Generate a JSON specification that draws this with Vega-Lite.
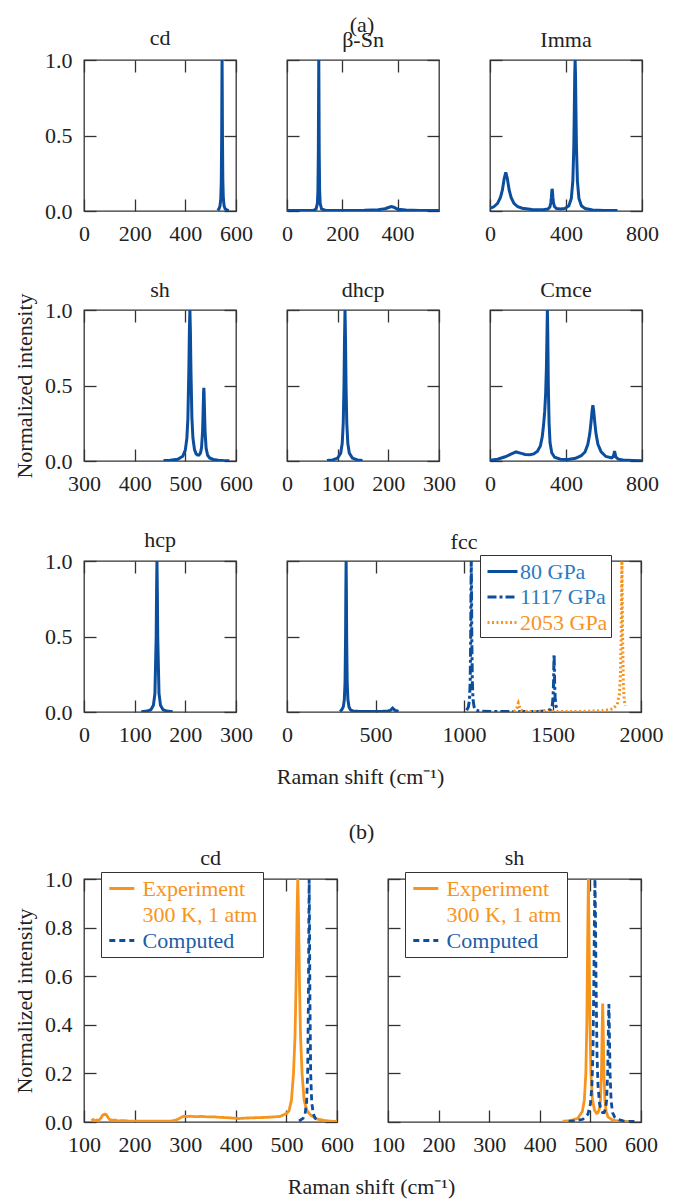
{
  "$schema": "https://vega.github.io/schema/vega-lite/v6.json",
  "padding": {"left": 12, "top": 14, "right": 5, "bottom": 5},
  "spacing": 33,
  "bounds": "full",
  "resolve": {"scale": {"color": "independent", "strokeDash": "independent"}, "legend": {"color": "independent", "strokeDash": "independent"}},
  "config": {
    "font": "Liberation Serif",
    "view": {"stroke": "#333", "strokeWidth": 1.3},
    "axis": {"domain": false, "grid": false, "tickSize": -12, "tickColor": "#333", "tickWidth": 1.3, "labelFont": "Liberation Serif", "labelFontSize": 22, "labelColor": "#222", "labelPadding": 24, "labelFlush": false, "labelOverlap": false, "titleFont": "Liberation Serif", "titleFontSize": 22, "titleFontWeight": "normal", "titleColor": "#222", "titlePadding": 8},
    "title": {"font": "Liberation Serif", "fontSize": 22, "fontWeight": "normal", "color": "#222", "baseline": "alphabetic", "offset": 7.5, "anchor": "middle", "frame": "group"},
    "legend": {"labelFont": "Liberation Serif", "labelFontSize": 22}
  },
  "datasets": {
    "cd": [{"x":528,"y":0.004},{"x":533,"y":0.015},{"x":537,"y":0.034},{"x":540,"y":0.083},{"x":542,"y":0.2},{"x":543.5,"y":0.5},{"x":544.3,"y":0.8},{"x":545,"y":1},{"x":545.7,"y":0.8},{"x":546.5,"y":0.5},{"x":548,"y":0.2},{"x":550,"y":0.083},{"x":553,"y":0.034},{"x":557,"y":0.015},{"x":565,"y":0.006},{"x":572,"y":0.003}],
    "bsn": [{"x":0,"y":0.003},{"x":60,"y":0.003},{"x":95,"y":0.004},{"x":105,"y":0.012},{"x":110,"y":0.05},{"x":112,"y":0.14},{"x":113.5,"y":0.4},{"x":114.3,"y":0.75},{"x":115,"y":1},{"x":115.7,"y":0.75},{"x":116.5,"y":0.4},{"x":118,"y":0.14},{"x":120,"y":0.05},{"x":125,"y":0.014},{"x":140,"y":0.004},{"x":200,"y":0.004},{"x":280,"y":0.005},{"x":330,"y":0.009},{"x":355,"y":0.015},{"x":370,"y":0.025},{"x":378,"y":0.03},{"x":386,"y":0.025},{"x":400,"y":0.012},{"x":430,"y":0.006},{"x":480,"y":0.004},{"x":550,"y":0.003}],
    "imma": [{"x":0,"y":0.018},{"x":20,"y":0.028},{"x":40,"y":0.05},{"x":55,"y":0.09},{"x":65,"y":0.138},{"x":75,"y":0.216},{"x":83,"y":0.255},{"x":91,"y":0.216},{"x":101,"y":0.138},{"x":111,"y":0.09},{"x":126,"y":0.05},{"x":146,"y":0.028},{"x":170,"y":0.018},{"x":220,"y":0.01},{"x":280,"y":0.009},{"x":305,"y":0.013},{"x":315,"y":0.027},{"x":320,"y":0.053},{"x":323,"y":0.09},{"x":325,"y":0.125},{"x":327,"y":0.147},{"x":329,"y":0.127},{"x":331,"y":0.09},{"x":334,"y":0.055},{"x":339,"y":0.03},{"x":350,"y":0.016},{"x":370,"y":0.013},{"x":395,"y":0.017},{"x":415,"y":0.035},{"x":428,"y":0.083},{"x":436,"y":0.2},{"x":441,"y":0.42},{"x":444,"y":0.69},{"x":446,"y":0.9},{"x":448,"y":1},{"x":450,"y":0.9},{"x":452,"y":0.69},{"x":455,"y":0.42},{"x":460,"y":0.2},{"x":468,"y":0.083},{"x":481,"y":0.035},{"x":501,"y":0.016},{"x":540,"y":0.007},{"x":600,"y":0.004},{"x":671,"y":0.003}],
    "sh": [{"x":457,"y":0.003},{"x":470,"y":0.005},{"x":485,"y":0.011},{"x":495,"y":0.032},{"x":500,"y":0.073},{"x":503,"y":0.15},{"x":505,"y":0.28},{"x":507,"y":0.61},{"x":508,"y":0.86},{"x":509,"y":1},{"x":510,"y":0.86},{"x":511,"y":0.61},{"x":513,"y":0.283},{"x":515,"y":0.152},{"x":518,"y":0.077},{"x":521,"y":0.049},{"x":524,"y":0.039},{"x":527,"y":0.039},{"x":530,"y":0.054},{"x":532,"y":0.089},{"x":534,"y":0.193},{"x":535,"y":0.31},{"x":536,"y":0.451},{"x":536.5,"y":0.485},{"x":537,"y":0.451},{"x":538,"y":0.309},{"x":539,"y":0.191},{"x":541,"y":0.085},{"x":544,"y":0.038},{"x":548,"y":0.02},{"x":555,"y":0.01},{"x":565,"y":0.0043},{"x":578,"y":0.0024},{"x":587,"y":0.002}],
    "dhcp": [{"x":79,"y":0.003},{"x":90,"y":0.007},{"x":100,"y":0.019},{"x":106,"y":0.052},{"x":109,"y":0.117},{"x":111,"y":0.25},{"x":112.5,"y":0.5},{"x":113.5,"y":0.8},{"x":114.5,"y":1},{"x":115.5,"y":0.8},{"x":116.5,"y":0.5},{"x":118,"y":0.25},{"x":120,"y":0.117},{"x":123,"y":0.052},{"x":129,"y":0.019},{"x":139,"y":0.007},{"x":149,"y":0.003}],
    "cmce": [{"x":0,"y":0.005},{"x":40,"y":0.012},{"x":80,"y":0.028},{"x":110,"y":0.045},{"x":137,"y":0.06},{"x":160,"y":0.052},{"x":185,"y":0.043},{"x":210,"y":0.042},{"x":230,"y":0.047},{"x":250,"y":0.065},{"x":265,"y":0.1},{"x":275,"y":0.16},{"x":282,"y":0.24},{"x":288,"y":0.33},{"x":293,"y":0.45},{"x":297,"y":0.62},{"x":300,"y":0.85},{"x":302,"y":1},{"x":304,"y":0.85},{"x":307,"y":0.5},{"x":311,"y":0.25},{"x":316,"y":0.12},{"x":325,"y":0.055},{"x":340,"y":0.025},{"x":370,"y":0.012},{"x":410,"y":0.01},{"x":450,"y":0.018},{"x":480,"y":0.035},{"x":500,"y":0.06},{"x":515,"y":0.11},{"x":525,"y":0.18},{"x":532,"y":0.26},{"x":537,"y":0.33},{"x":541.5,"y":0.37},{"x":546,"y":0.33},{"x":551,"y":0.26},{"x":558,"y":0.18},{"x":568,"y":0.11},{"x":585,"y":0.06},{"x":610,"y":0.03},{"x":640,"y":0.02},{"x":648,"y":0.028},{"x":652,"y":0.045},{"x":655.6,"y":0.065},{"x":659,"y":0.045},{"x":663,"y":0.025},{"x":675,"y":0.012},{"x":700,"y":0.007},{"x":750,"y":0.004},{"x":800,"y":0.002}],
    "hcp": [{"x":113,"y":0.002},{"x":125,"y":0.006},{"x":132,"y":0.015},{"x":137,"y":0.044},{"x":140,"y":0.123},{"x":142.5,"y":0.5},{"x":143.25,"y":0.8},{"x":144,"y":1},{"x":144.75,"y":0.8},{"x":145.5,"y":0.5},{"x":148,"y":0.123},{"x":151,"y":0.044},{"x":156,"y":0.015},{"x":163,"y":0.006},{"x":175,"y":0.002}],
    "fcc": [
      {"s":"80 GPa","x":300,"y":0.003},{"s":"80 GPa","x":309,"y":0.014},{"s":"80 GPa","x":318,"y":0.034},{"s":"80 GPa","x":324,"y":0.083},{"s":"80 GPa","x":328,"y":0.2},{"s":"80 GPa","x":331,"y":0.5},{"s":"80 GPa","x":332.5,"y":0.8},{"s":"80 GPa","x":334,"y":1},{"s":"80 GPa","x":335.5,"y":0.8},{"s":"80 GPa","x":337,"y":0.5},{"s":"80 GPa","x":340,"y":0.2},{"s":"80 GPa","x":344,"y":0.083},{"s":"80 GPa","x":350,"y":0.034},{"s":"80 GPa","x":359,"y":0.014},{"s":"80 GPa","x":374,"y":0.006},{"s":"80 GPa","x":420,"y":0.003},{"s":"80 GPa","x":520,"y":0.003},{"s":"80 GPa","x":570,"y":0.006},{"s":"80 GPa","x":585,"y":0.012},{"s":"80 GPa","x":592,"y":0.02},{"s":"80 GPa","x":597,"y":0.026},{"s":"80 GPa","x":602,"y":0.02},{"s":"80 GPa","x":609,"y":0.012},{"s":"80 GPa","x":630,"y":0.004},
      {"s":"1117 GPa","x":1015,"y":0.012},{"s":"1117 GPa","x":1025,"y":0.034},{"s":"1117 GPa","x":1031,"y":0.083},{"s":"1117 GPa","x":1035,"y":0.2},{"s":"1117 GPa","x":1038,"y":0.5},{"s":"1117 GPa","x":1039.5,"y":0.8},{"s":"1117 GPa","x":1041,"y":1},{"s":"1117 GPa","x":1042.5,"y":0.8},{"s":"1117 GPa","x":1044,"y":0.5},{"s":"1117 GPa","x":1047,"y":0.2},{"s":"1117 GPa","x":1051,"y":0.083},{"s":"1117 GPa","x":1057,"y":0.034},{"s":"1117 GPa","x":1066,"y":0.014},{"s":"1117 GPa","x":1085,"y":0.005},{"s":"1117 GPa","x":1150,"y":0.003},{"s":"1117 GPa","x":1300,"y":0.003},{"s":"1117 GPa","x":1420,"y":0.004},{"s":"1117 GPa","x":1470,"y":0.008},{"s":"1117 GPa","x":1490,"y":0.018},{"s":"1117 GPa","x":1499,"y":0.044},{"s":"1117 GPa","x":1503,"y":0.095},{"s":"1117 GPa","x":1506,"y":0.19},{"s":"1117 GPa","x":1507.5,"y":0.3},{"s":"1117 GPa","x":1509,"y":0.38},{"s":"1117 GPa","x":1510.5,"y":0.3},{"s":"1117 GPa","x":1512,"y":0.19},{"s":"1117 GPa","x":1515,"y":0.095},{"s":"1117 GPa","x":1519,"y":0.044},{"s":"1117 GPa","x":1525,"y":0.02},
      {"s":"2053 GPa","x":1280,"y":0.003},{"s":"2053 GPa","x":1293,"y":0.012},{"s":"2053 GPa","x":1300,"y":0.03},{"s":"2053 GPa","x":1304,"y":0.05},{"s":"2053 GPa","x":1307,"y":0.06},{"s":"2053 GPa","x":1310,"y":0.05},{"s":"2053 GPa","x":1314,"y":0.03},{"s":"2053 GPa","x":1321,"y":0.012},{"s":"2053 GPa","x":1340,"y":0.004},{"s":"2053 GPa","x":1450,"y":0.003},{"s":"2053 GPa","x":1650,"y":0.004},{"s":"2053 GPa","x":1780,"y":0.008},{"s":"2053 GPa","x":1840,"y":0.02},{"s":"2053 GPa","x":1866,"y":0.05},{"s":"2053 GPa","x":1878,"y":0.12},{"s":"2053 GPa","x":1884,"y":0.25},{"s":"2053 GPa","x":1888,"y":0.5},{"s":"2053 GPa","x":1890,"y":0.75},{"s":"2053 GPa","x":1892,"y":1},{"s":"2053 GPa","x":1894,"y":0.75},{"s":"2053 GPa","x":1896,"y":0.5},{"s":"2053 GPa","x":1900,"y":0.2},{"s":"2053 GPa","x":1905,"y":0.08},{"s":"2053 GPa","x":1911,"y":0.04}
    ],
    "bcd": [
      {"s":"Experiment","x":115,"y":0.005},{"s":"Experiment","x":118,"y":0.01},{"s":"Experiment","x":121,"y":0.004},{"s":"Experiment","x":125,"y":0.008},{"s":"Experiment","x":129,"y":0.006},{"s":"Experiment","x":133,"y":0.015},{"s":"Experiment","x":137,"y":0.028},{"s":"Experiment","x":141,"y":0.032},{"s":"Experiment","x":144,"y":0.03},{"s":"Experiment","x":147,"y":0.02},{"s":"Experiment","x":151,"y":0.01},{"s":"Experiment","x":156,"y":0.007},{"s":"Experiment","x":162,"y":0.008},{"s":"Experiment","x":168,"y":0.004},{"s":"Experiment","x":175,"y":0.006},{"s":"Experiment","x":183,"y":0.005},{"s":"Experiment","x":190,"y":0.003},{"s":"Experiment","x":200,"y":0.004},{"s":"Experiment","x":215,"y":0.003},{"s":"Experiment","x":230,"y":0.004},{"s":"Experiment","x":245,"y":0.003},{"s":"Experiment","x":260,"y":0.003},{"s":"Experiment","x":272,"y":0.004},{"s":"Experiment","x":282,"y":0.008},{"s":"Experiment","x":288,"y":0.014},{"s":"Experiment","x":293,"y":0.02},{"s":"Experiment","x":298,"y":0.024},{"s":"Experiment","x":303,"y":0.022},{"s":"Experiment","x":310,"y":0.024},{"s":"Experiment","x":320,"y":0.022},{"s":"Experiment","x":332,"y":0.023},{"s":"Experiment","x":345,"y":0.021},{"s":"Experiment","x":358,"y":0.021},{"s":"Experiment","x":370,"y":0.019},{"s":"Experiment","x":382,"y":0.018},{"s":"Experiment","x":395,"y":0.016},{"s":"Experiment","x":405,"y":0.014},{"s":"Experiment","x":418,"y":0.016},{"s":"Experiment","x":430,"y":0.017},{"s":"Experiment","x":445,"y":0.018},{"s":"Experiment","x":460,"y":0.019},{"s":"Experiment","x":475,"y":0.021},{"s":"Experiment","x":488,"y":0.023},{"s":"Experiment","x":500,"y":0.035},{"s":"Experiment","x":505,"y":0.045},{"s":"Experiment","x":510,"y":0.09},{"s":"Experiment","x":514,"y":0.2},{"s":"Experiment","x":517,"y":0.35},{"s":"Experiment","x":519,"y":0.55},{"s":"Experiment","x":521,"y":0.85},{"s":"Experiment","x":522.5,"y":1},{"s":"Experiment","x":524,"y":0.85},{"s":"Experiment","x":526,"y":0.55},{"s":"Experiment","x":528,"y":0.35},{"s":"Experiment","x":531,"y":0.2},{"s":"Experiment","x":535,"y":0.09},{"s":"Experiment","x":540,"y":0.05},{"s":"Experiment","x":545,"y":0.035},{"s":"Experiment","x":550,"y":0.025},{"s":"Experiment","x":560,"y":0.013},{"s":"Experiment","x":575,"y":0.006},{"s":"Experiment","x":590,"y":0.003},{"s":"Experiment","x":600,"y":0.002},
      {"s":"Computed","x":525,"y":0.004},{"s":"Computed","x":533,"y":0.015},{"s":"Computed","x":537,"y":0.034},{"s":"Computed","x":540,"y":0.083},{"s":"Computed","x":542,"y":0.2},{"s":"Computed","x":543.5,"y":0.5},{"s":"Computed","x":544.3,"y":0.8},{"s":"Computed","x":545,"y":1},{"s":"Computed","x":545.7,"y":0.8},{"s":"Computed","x":546.5,"y":0.5},{"s":"Computed","x":548,"y":0.2},{"s":"Computed","x":550,"y":0.083},{"s":"Computed","x":553,"y":0.034},{"s":"Computed","x":557,"y":0.015},{"s":"Computed","x":562,"y":0.007}
    ],
    "bsh": [
      {"s":"Experiment","x":445,"y":0.003},{"s":"Experiment","x":460,"y":0.005},{"s":"Experiment","x":475,"y":0.015},{"s":"Experiment","x":484,"y":0.043},{"s":"Experiment","x":488,"y":0.09},{"s":"Experiment","x":491,"y":0.2},{"s":"Experiment","x":493,"y":0.41},{"s":"Experiment","x":494.5,"y":0.735},{"s":"Experiment","x":496,"y":1},{"s":"Experiment","x":497.5,"y":0.735},{"s":"Experiment","x":499,"y":0.41},{"s":"Experiment","x":501,"y":0.203},{"s":"Experiment","x":504,"y":0.094},{"s":"Experiment","x":508,"y":0.049},{"s":"Experiment","x":512,"y":0.036},{"s":"Experiment","x":515,"y":0.038},{"s":"Experiment","x":518,"y":0.056},{"s":"Experiment","x":520,"y":0.095},{"s":"Experiment","x":522,"y":0.212},{"s":"Experiment","x":523.3,"y":0.385},{"s":"Experiment","x":524.3,"y":0.488},{"s":"Experiment","x":525.3,"y":0.384},{"s":"Experiment","x":526.6,"y":0.21},{"s":"Experiment","x":528.6,"y":0.091},{"s":"Experiment","x":531,"y":0.044},{"s":"Experiment","x":535,"y":0.02},{"s":"Experiment","x":545,"y":0.007},{"s":"Experiment","x":560,"y":0.003},{"s":"Experiment","x":577,"y":0.0016},
      {"s":"Computed","x":457,"y":0.003},{"s":"Computed","x":470,"y":0.005},{"s":"Computed","x":485,"y":0.011},{"s":"Computed","x":495,"y":0.032},{"s":"Computed","x":500,"y":0.073},{"s":"Computed","x":503,"y":0.15},{"s":"Computed","x":505,"y":0.28},{"s":"Computed","x":507,"y":0.61},{"s":"Computed","x":508,"y":0.86},{"s":"Computed","x":509,"y":1},{"s":"Computed","x":510,"y":0.86},{"s":"Computed","x":511,"y":0.61},{"s":"Computed","x":513,"y":0.283},{"s":"Computed","x":515,"y":0.152},{"s":"Computed","x":518,"y":0.077},{"s":"Computed","x":521,"y":0.049},{"s":"Computed","x":524,"y":0.039},{"s":"Computed","x":527,"y":0.039},{"s":"Computed","x":530,"y":0.054},{"s":"Computed","x":532,"y":0.089},{"s":"Computed","x":534,"y":0.193},{"s":"Computed","x":535,"y":0.31},{"s":"Computed","x":536,"y":0.451},{"s":"Computed","x":536.5,"y":0.485},{"s":"Computed","x":537,"y":0.451},{"s":"Computed","x":538,"y":0.309},{"s":"Computed","x":539,"y":0.191},{"s":"Computed","x":541,"y":0.085},{"s":"Computed","x":544,"y":0.038},{"s":"Computed","x":548,"y":0.02},{"s":"Computed","x":555,"y":0.01},{"s":"Computed","x":565,"y":0.0043},{"s":"Computed","x":578,"y":0.0024},{"s":"Computed","x":587,"y":0.002}
    ]
  },
  "vconcat": [
    {
      "bounds": "flush", "spacing": 51,
      "title": {"text": "(a)", "frame": "bounds", "anchor": "middle", "offset": -11.3, "dx": 26},
      "hconcat": [
        {"width": 152, "height": 151, "title": {"text": "cd", "offset": -0.5}, "data": {"name": "cd"},
         "layer": [
          {"mark": {"type": "line", "color": "#0c4e9e", "strokeWidth": 3, "clip": true},
           "encoding": {
            "x": {"field": "x", "type": "quantitative", "scale": {"domain": [0, 600], "nice": false, "zero": false}, "axis": {"orient": "bottom", "values": [0, 200, 400, 600], "format": "d", "title": null}},
            "y": {"field": "y", "type": "quantitative", "scale": {"domain": [0, 1], "nice": false}, "axis": {"orient": "left", "values": [0, 0.5, 1], "format": ".1f", "title": "N", "titleOpacity": 0}}}},
          {"mark": {"type": "line", "strokeOpacity": 0, "strokeWidth": 0, "clip": true},
           "encoding": {
            "x": {"field": "x", "type": "quantitative", "axis": {"orient": "top", "values": [0, 200, 400, 600], "labels": false, "title": null}},
            "y": {"field": "y", "type": "quantitative", "axis": {"orient": "right", "values": [0, 0.5, 1], "labels": false, "title": null}}}}
         ]},
        {"width": 152, "height": 151, "title": "β-Sn", "data": {"name": "bsn"},
         "layer": [
          {"mark": {"type": "line", "color": "#0c4e9e", "strokeWidth": 3, "clip": true},
           "encoding": {
            "x": {"field": "x", "type": "quantitative", "scale": {"domain": [0, 550], "nice": false, "zero": false}, "axis": {"orient": "bottom", "values": [0, 200, 400], "format": "d", "title": null}},
            "y": {"field": "y", "type": "quantitative", "scale": {"domain": [0, 1], "nice": false}, "axis": {"orient": "left", "values": [0, 0.5, 1], "labels": false, "title": null}}}},
          {"mark": {"type": "line", "strokeOpacity": 0, "strokeWidth": 0, "clip": true},
           "encoding": {
            "x": {"field": "x", "type": "quantitative", "axis": {"orient": "top", "values": [0, 200, 400], "labels": false, "title": null}},
            "y": {"field": "y", "type": "quantitative", "axis": {"orient": "right", "values": [0, 0.5, 1], "labels": false, "title": null}}}}
         ]},
        {"width": 152, "height": 151, "title": "Imma", "data": {"name": "imma"},
         "layer": [
          {"mark": {"type": "line", "color": "#0c4e9e", "strokeWidth": 3, "clip": true},
           "encoding": {
            "x": {"field": "x", "type": "quantitative", "scale": {"domain": [0, 800], "nice": false, "zero": false}, "axis": {"orient": "bottom", "values": [0, 400, 800], "format": "d", "title": null}},
            "y": {"field": "y", "type": "quantitative", "scale": {"domain": [0, 1], "nice": false}, "axis": {"orient": "left", "values": [0, 0.5, 1], "labels": false, "title": null}}}},
          {"mark": {"type": "line", "strokeOpacity": 0, "strokeWidth": 0, "clip": true},
           "encoding": {
            "x": {"field": "x", "type": "quantitative", "axis": {"orient": "top", "values": [0, 400, 800], "labels": false, "title": null}},
            "y": {"field": "y", "type": "quantitative", "axis": {"orient": "right", "values": [0, 0.5, 1], "labels": false, "title": null}}}}
         ]}
      ]
    },
    {
      "bounds": "flush", "spacing": 51,
      "hconcat": [
        {"width": 152, "height": 151, "title": {"text": "sh", "offset": -9.5}, "data": {"name": "sh"},
         "layer": [
          {"mark": {"type": "line", "color": "#0c4e9e", "strokeWidth": 3, "clip": true},
           "encoding": {
            "x": {"field": "x", "type": "quantitative", "scale": {"domain": [300, 600], "nice": false, "zero": false}, "axis": {"orient": "bottom", "values": [300, 400, 500, 600], "format": "d", "title": null}},
            "y": {"field": "y", "type": "quantitative", "scale": {"domain": [0, 1], "nice": false}, "axis": {"orient": "left", "values": [0, 0.5, 1], "format": ".1f", "title": "Normalized intensity"}}}},
          {"mark": {"type": "line", "strokeOpacity": 0, "strokeWidth": 0, "clip": true},
           "encoding": {
            "x": {"field": "x", "type": "quantitative", "axis": {"orient": "top", "values": [300, 400, 500, 600], "labels": false, "title": null}},
            "y": {"field": "y", "type": "quantitative", "axis": {"orient": "right", "values": [0, 0.5, 1], "labels": false, "title": null}}}}
         ]},
        {"width": 152, "height": 151, "title": "dhcp", "data": {"name": "dhcp"},
         "layer": [
          {"mark": {"type": "line", "color": "#0c4e9e", "strokeWidth": 3, "clip": true},
           "encoding": {
            "x": {"field": "x", "type": "quantitative", "scale": {"domain": [0, 300], "nice": false, "zero": false}, "axis": {"orient": "bottom", "values": [0, 100, 200, 300], "format": "d", "title": null}},
            "y": {"field": "y", "type": "quantitative", "scale": {"domain": [0, 1], "nice": false}, "axis": {"orient": "left", "values": [0, 0.5, 1], "labels": false, "title": null}}}},
          {"mark": {"type": "line", "strokeOpacity": 0, "strokeWidth": 0, "clip": true},
           "encoding": {
            "x": {"field": "x", "type": "quantitative", "axis": {"orient": "top", "values": [0, 100, 200, 300], "labels": false, "title": null}},
            "y": {"field": "y", "type": "quantitative", "axis": {"orient": "right", "values": [0, 0.5, 1], "labels": false, "title": null}}}}
         ]},
        {"width": 152, "height": 151, "title": "Cmce", "data": {"name": "cmce"},
         "layer": [
          {"mark": {"type": "line", "color": "#0c4e9e", "strokeWidth": 3, "clip": true},
           "encoding": {
            "x": {"field": "x", "type": "quantitative", "scale": {"domain": [0, 800], "nice": false, "zero": false}, "axis": {"orient": "bottom", "values": [0, 400, 800], "format": "d", "title": null}},
            "y": {"field": "y", "type": "quantitative", "scale": {"domain": [0, 1], "nice": false}, "axis": {"orient": "left", "values": [0, 0.5, 1], "labels": false, "title": null}}}},
          {"mark": {"type": "line", "strokeOpacity": 0, "strokeWidth": 0, "clip": true},
           "encoding": {
            "x": {"field": "x", "type": "quantitative", "axis": {"orient": "top", "values": [0, 400, 800], "labels": false, "title": null}},
            "y": {"field": "y", "type": "quantitative", "axis": {"orient": "right", "values": [0, 0.5, 1], "labels": false, "title": null}}}}
         ]}
      ]
    },
    {
      "bounds": "flush", "spacing": 51,
      "resolve": {"scale": {"color": "independent", "strokeDash": "independent"}, "legend": {"color": "independent", "strokeDash": "independent"}},
      "hconcat": [
        {"width": 152, "height": 151, "title": {"text": "hcp", "offset": -2}, "data": {"name": "hcp"},
         "layer": [
          {"mark": {"type": "line", "color": "#0c4e9e", "strokeWidth": 3, "clip": true},
           "encoding": {
            "x": {"field": "x", "type": "quantitative", "scale": {"domain": [0, 300], "nice": false, "zero": false}, "axis": {"orient": "bottom", "values": [0, 100, 200, 300], "format": "d", "title": "Raman shift (cm⁻¹)", "titleX": 276, "titleY": 71, "titleBaseline": "alphabetic", "titleAlign": "center"}},
            "y": {"field": "y", "type": "quantitative", "scale": {"domain": [0, 1], "nice": false}, "axis": {"orient": "left", "values": [0, 0.5, 1], "format": ".1f", "title": "N", "titleOpacity": 0}}}},
          {"mark": {"type": "line", "strokeOpacity": 0, "strokeWidth": 0, "clip": true},
           "encoding": {
            "x": {"field": "x", "type": "quantitative", "axis": {"orient": "top", "values": [0, 100, 200, 300], "labels": false, "title": null}},
            "y": {"field": "y", "type": "quantitative", "axis": {"orient": "right", "values": [0, 0.5, 1], "labels": false, "title": null}}}}
         ]},
        {"width": 354, "height": 151, "title": {"text": "fcc", "offset": 1}, "data": {"name": "fcc"},
         "layer": [
          {"mark": {"type": "line", "strokeWidth": 3, "clip": true},
           "encoding": {
            "x": {"field": "x", "type": "quantitative", "scale": {"domain": [0, 2000], "nice": false, "zero": false}, "axis": {"orient": "bottom", "values": [0, 500, 1000, 1500, 2000], "format": "d", "title": null}},
            "y": {"field": "y", "type": "quantitative", "scale": {"domain": [0, 1], "nice": false}, "axis": {"orient": "left", "values": [0, 0.5, 1], "labels": false, "title": null}},
            "color": {"field": "s", "type": "nominal", "scale": {"domain": ["80 GPa", "1117 GPa", "2053 GPa"], "range": ["#0c4e9e", "#0c4e9e", "#f7941d"]},
              "legend": {"title": null, "orient": "none", "legendX": 193, "legendY": -6, "symbolType": "M-0.75,0H1.75", "symbolSize": 576, "symbolStrokeWidth": 3, "labelOffset": 10, "labelColor": {"expr": "datum.value === '2053 GPa' ? '#f7941d' : '#2a7cc0'"}, "strokeColor": "#333", "fillColor": "white", "padding": 3, "rowPadding": 0.5, "labelLimit": 300}},
            "strokeDash": {"field": "s", "type": "nominal", "scale": {"domain": ["80 GPa", "1117 GPa", "2053 GPa"], "range": [[1, 0], [9, 3, 3, 3], [2, 2.5]]},
              "legend": {"title": null, "orient": "none", "legendX": 193, "legendY": -6, "symbolType": "M-0.75,0H1.75", "symbolSize": 576, "symbolStrokeWidth": 3, "labelOffset": 10, "labelColor": {"expr": "datum.value === '2053 GPa' ? '#f7941d' : '#2a7cc0'"}, "strokeColor": "#333", "fillColor": "white", "padding": 3, "rowPadding": 0.5, "labelLimit": 300}}}},
          {"mark": {"type": "line", "strokeOpacity": 0, "strokeWidth": 0, "clip": true},
           "encoding": {
            "x": {"field": "x", "type": "quantitative", "axis": {"orient": "top", "values": [0, 500, 1000, 1500, 2000], "labels": false, "title": null}},
            "y": {"field": "y", "type": "quantitative", "axis": {"orient": "right", "values": [0, 0.5, 1], "labels": false, "title": null}}}}
         ]}
      ]
    },
    {
      "bounds": "flush", "spacing": 51,
      "resolve": {"scale": {"color": "independent", "strokeDash": "independent"}, "legend": {"color": "independent", "strokeDash": "independent"}},
      "title": {"text": "(b)", "frame": "bounds", "anchor": "middle", "offset": 1.5, "dx": 26},
      "hconcat": [
        {"width": 253, "height": 243, "title": {"text": "cd", "offset": -1.5}, "data": {"name": "bcd"},
         "layer": [
          {"mark": {"type": "line", "strokeWidth": 2.8, "clip": true},
           "encoding": {
            "x": {"field": "x", "type": "quantitative", "scale": {"domain": [100, 600], "nice": false, "zero": false}, "axis": {"orient": "bottom", "values": [100, 200, 300, 400, 500, 600], "format": "d", "title": "Raman shift (cm⁻¹)", "titleX": 287, "titleY": 71, "titleBaseline": "alphabetic", "titleAlign": "center"}},
            "y": {"field": "y", "type": "quantitative", "scale": {"domain": [0, 1], "nice": false}, "axis": {"orient": "left", "values": [0, 0.2, 0.4, 0.6, 0.8, 1], "format": ".1f", "title": "Normalized intensity"}},
            "color": {"field": "s", "type": "nominal", "scale": {"domain": ["Experiment", "300 K, 1 atm", "Computed"], "range": ["#f7941d", "transparent", "#0c4e9e"]},
              "legend": {"title": null, "orient": "none", "legendX": 17, "legendY": -7, "symbolType": "M-0.82,0H1.68", "symbolSize": 400, "symbolStrokeWidth": 3, "labelOffset": 13.6, "labelColor": {"expr": "datum.value === 'Computed' ? '#1d5ea8' : '#f7941d'"}, "strokeColor": "#333", "fillColor": "white", "padding": 5, "rowPadding": 3, "labelLimit": 300}},
            "strokeDash": {"field": "s", "type": "nominal", "scale": {"domain": ["Experiment", "300 K, 1 atm", "Computed"], "range": [[1, 0], [1, 0], [6, 4]]},
              "legend": {"title": null, "orient": "none", "legendX": 17, "legendY": -7, "symbolType": "M-0.82,0H1.68", "symbolSize": 400, "symbolStrokeWidth": 3, "labelOffset": 13.6, "labelColor": {"expr": "datum.value === 'Computed' ? '#1d5ea8' : '#f7941d'"}, "strokeColor": "#333", "fillColor": "white", "padding": 5, "rowPadding": 3, "labelLimit": 300}}}},
          {"mark": {"type": "line", "strokeOpacity": 0, "strokeWidth": 0, "clip": true},
           "encoding": {
            "x": {"field": "x", "type": "quantitative", "axis": {"orient": "top", "values": [100, 200, 300, 400, 500, 600], "labels": false, "title": null}},
            "y": {"field": "y", "type": "quantitative", "axis": {"orient": "right", "values": [0, 0.2, 0.4, 0.6, 0.8, 1], "labels": false, "title": null}}}}
         ]},
        {"width": 253, "height": 243, "title": {"text": "sh", "offset": 1.5}, "data": {"name": "bsh"},
         "layer": [
          {"mark": {"type": "line", "strokeWidth": 2.8, "clip": true},
           "encoding": {
            "x": {"field": "x", "type": "quantitative", "scale": {"domain": [100, 600], "nice": false, "zero": false}, "axis": {"orient": "bottom", "values": [100, 200, 300, 400, 500, 600], "format": "d", "title": null}},
            "y": {"field": "y", "type": "quantitative", "scale": {"domain": [0, 1], "nice": false}, "axis": {"orient": "left", "values": [0, 0.2, 0.4, 0.6, 0.8, 1], "labels": false, "title": null}},
            "color": {"field": "s", "type": "nominal", "scale": {"domain": ["Experiment", "300 K, 1 atm", "Computed"], "range": ["#f7941d", "transparent", "#0c4e9e"]},
              "legend": {"title": null, "orient": "none", "legendX": 17, "legendY": -7, "symbolType": "M-0.82,0H1.68", "symbolSize": 400, "symbolStrokeWidth": 3, "labelOffset": 13.6, "labelColor": {"expr": "datum.value === 'Computed' ? '#1d5ea8' : '#f7941d'"}, "strokeColor": "#333", "fillColor": "white", "padding": 5, "rowPadding": 3, "labelLimit": 300}},
            "strokeDash": {"field": "s", "type": "nominal", "scale": {"domain": ["Experiment", "300 K, 1 atm", "Computed"], "range": [[1, 0], [1, 0], [6, 4]]},
              "legend": {"title": null, "orient": "none", "legendX": 17, "legendY": -7, "symbolType": "M-0.82,0H1.68", "symbolSize": 400, "symbolStrokeWidth": 3, "labelOffset": 13.6, "labelColor": {"expr": "datum.value === 'Computed' ? '#1d5ea8' : '#f7941d'"}, "strokeColor": "#333", "fillColor": "white", "padding": 5, "rowPadding": 3, "labelLimit": 300}}}},
          {"mark": {"type": "line", "strokeOpacity": 0, "strokeWidth": 0, "clip": true},
           "encoding": {
            "x": {"field": "x", "type": "quantitative", "axis": {"orient": "top", "values": [100, 200, 300, 400, 500, 600], "labels": false, "title": null}},
            "y": {"field": "y", "type": "quantitative", "axis": {"orient": "right", "values": [0, 0.2, 0.4, 0.6, 0.8, 1], "labels": false, "title": null}}}}
         ]}
      ]
    }
  ]
}
